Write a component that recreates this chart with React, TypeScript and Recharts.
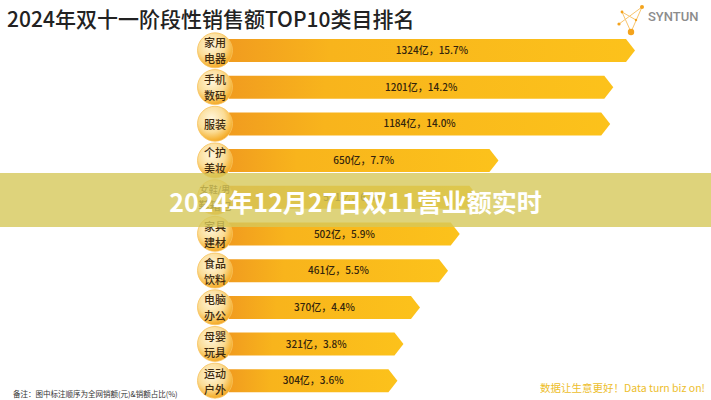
import { BarChart, Bar, XAxis, YAxis, LabelList } from 'recharts';

const categories = ['家用\n电器', '手机\n数码', '服装', '个护\n美妆', '女鞋/男\n鞋箱包', '家具\n建材', '食品\n饮料', '电脑\n办公', '母婴\n玩具', '运动\n户外'];
const sales = [1324, 1201, 1184, 650, 571, 502, 461, 370, 321, 304];
const shares = [15.7, 14.2, 14.0, 7.7, 6.8, 5.9, 5.5, 4.4, 3.8, 3.6];

const data = categories.map((name, i) => ({
  name,
  value: sales[i],
  label: `${sales[i]}亿，${shares[i].toFixed(1)}%`,
}));

const FONT = '"Noto Sans CJK SC", "Noto Sans", sans-serif';

function ArrowBar(props: any) {
  const { x, y, width, height } = props;
  const tip = 9;
  const pts = [
    [x, y],
    [x + width - tip, y],
    [x + width, y + height / 2],
    [x + width - tip, y + height],
    [x, y + height],
  ].map((p) => p.join(',')).join(' ');
  return <polygon points={pts} fill="url(#barGrad)" />;
}

function CircleTick({ x, y, payload }: any) {
  const cx = x - 14;
  const lines = String(payload.value).split('\n');
  const gap = 16;
  const start = y - ((lines.length - 1) * gap) / 2;
  return (
    <g>
      <circle cx={cx} cy={y} r={17.5} fill="url(#ballGrad)" />
      <circle cx={cx} cy={y} r={17.5} fill="none" stroke="#f7c25a" strokeWidth={0.8} />
      {lines.map((t, i) => (
        <text key={i} x={cx} y={start + i * gap} textAnchor="middle" dominantBaseline="central"
          fontSize={t.length > 3 ? 9 : 11} fontWeight={500} fill="#3e2a0e" fontFamily={FONT}>{t}</text>
      ))}
    </g>
  );
}

export default function App() {
  return (
    <div style={{ position: 'absolute', left: 0, top: 0, width: 711, height: 400, background: '#fff', overflow: 'hidden' }}>
      <BarChart width={711} height={400} data={data} layout="vertical"
        margin={{ top: 32, right: 76, bottom: 1, left: 0 }}>
        <defs>
          <linearGradient id="barGrad" x1="0" y1="0" x2="1" y2="0">
            <stop offset="0" stopColor="#f19c1f" />
            <stop offset="0.25" stopColor="#f8b41c" />
            <stop offset="1" stopColor="#fcc21b" />
          </linearGradient>
          <radialGradient id="ballGrad" cx="0.4" cy="0.35" r="0.7">
            <stop offset="0" stopColor="#fff6dc" />
            <stop offset="0.55" stopColor="#fbdc95" />
            <stop offset="0.85" stopColor="#f6b53a" />
            <stop offset="1" stopColor="#f0a020" />
          </radialGradient>
        </defs>
        <XAxis type="number" scale="sqrt" domain={[16, 1324]} hide />
        <Bar dataKey="value" barSize={23} shape={<ArrowBar />} isAnimationActive={false}>
          <LabelList dataKey="label" position="center" fill="#33240c" fontSize={10} fontWeight={500} fontFamily={FONT} />
        </Bar>
        <YAxis type="category" dataKey="name" width={229} axisLine={false} tickLine={false}
          tickSize={0} tickMargin={0} tick={<CircleTick />} interval={0} />
      </BarChart>
      <svg width={711} height={400} style={{ position: 'absolute', left: 0, top: 0, pointerEvents: 'none' }}>
        <text x={7} y={27} fontSize={21} fontWeight={500} fill="#222" fontFamily={FONT}>2024年双十一阶段性销售额TOP10类目排名</text>
        <g stroke="#f8c56e" strokeWidth={1}>
          <line x1={622} y1={12} x2={631} y2={32} />
          <line x1={642} y1={7} x2={631} y2={32} />
          <line x1={619} y1={24} x2={642} y2={7} />
          <line x1={622} y1={12} x2={636} y2={20} />
        </g>
        <g fill="#f4a31c">
          <circle cx={631} cy={32} r={3.2} />
          <circle cx={642} cy={7} r={2} />
          <circle cx={619} cy={24} r={1.6} />
          <circle cx={622} cy={12} r={1.4} />
          <circle cx={636} cy={20} r={1.2} />
        </g>
        <text x={648} y={21} fontSize={13} fontWeight={500} fill="#8c8c8c" fontFamily="Roboto, sans-serif">SYNTUN</text>
        <text x={13} y={397} fontSize={7.5} fill="#333" fontFamily={FONT}>备注：图中标注顺序为全网销额(元)&amp;销额占比(%)</text>
        <text x={705} y={392} textAnchor="end" fontSize={10.5} fill="#edbe2c" fontFamily={FONT}>数据让生意更好！Data turn biz on!</text>
        <rect x={0} y={173} width={711} height={54} fill="rgba(214,200,90,0.8)" />
        <text x={355.5} y={201} textAnchor="middle" dominantBaseline="central" fontSize={25} fontWeight={700}
          fill="#fff" fontFamily={FONT}>2024年12月27日双11营业额实时</text>
      </svg>
    </div>
  );
}
